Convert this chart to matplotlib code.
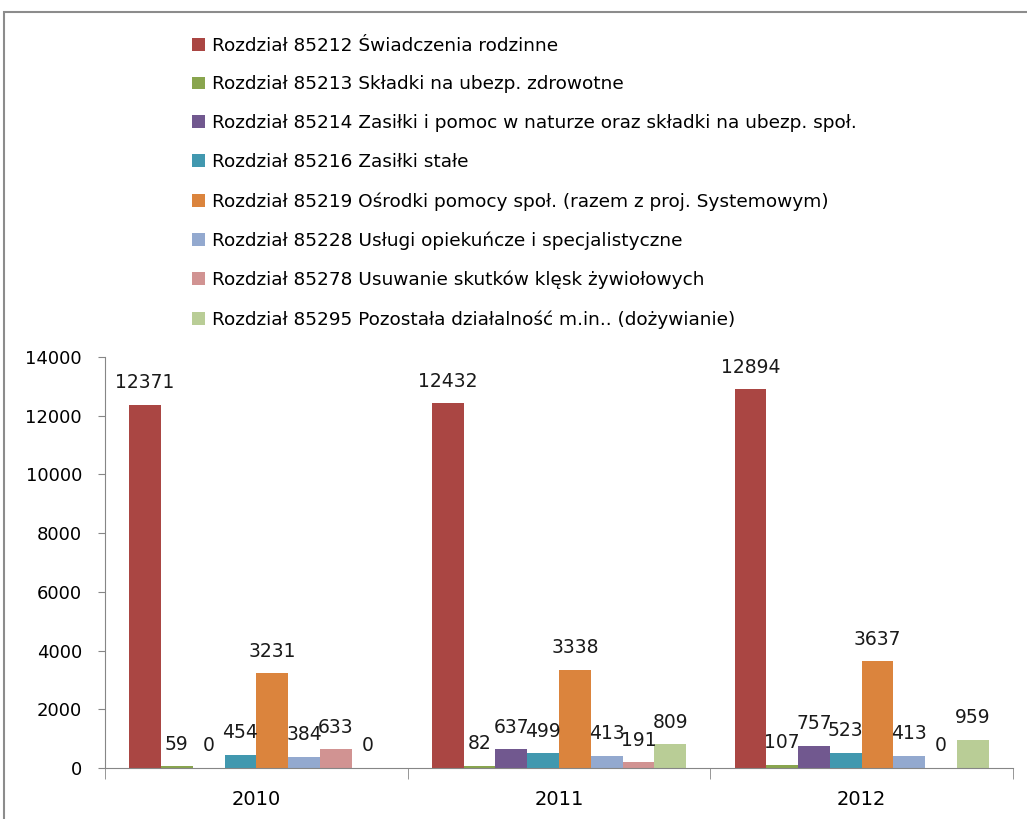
import matplotlib
matplotlib.use("Agg")
import matplotlib.pyplot as plt
import numpy as np
from matplotlib.patches import Rectangle

# Data
years = ["2010", "2011", "2012"]
series_names = [
    "Rozdział 85212 Świadczenia rodzinne",
    "Rozdział 85213 Składki na ubezp. zdrowotne",
    "Rozdział 85214 Zasiłki i pomoc w naturze oraz składki na ubezp. społ.",
    "Rozdział 85216 Zasiłki stałe",
    "Rozdział 85219 Ośrodki pomocy społ. (razem z proj. Systemowym)",
    "Rozdział 85228 Usługi opiekuńcze i specjalistyczne",
    "Rozdział 85278 Usuwanie skutków klęsk żywiołowych",
    "Rozdział 85295 Pozostała działalność m.in.. (dożywianie)",
]
r85212 = [12371, 12432, 12894]
r85213 = [59, 82, 107]
r85214 = [0, 637, 757]
r85216 = [454, 499, 523]
r85219 = [3231, 3338, 3637]
r85228 = [384, 413, 413]
r85278 = [633, 191, 0]
r85295 = [0, 809, 959]
series_values = [r85212, r85213, r85214, r85216, r85219, r85228, r85278, r85295]
colors = ["#AA4643", "#89A54E", "#71588F", "#4198AF",
          "#DB843D", "#93A9CF", "#D19392", "#B9CD96"]
y_ticks = [0, 2000, 4000, 6000, 8000, 10000, 12000, 14000]

fig = plt.figure(figsize=(10.27, 8.19), dpi=100)
ax = fig.add_axes([0.1022, 0.0623, 0.8842, 0.5018])

# outer chart border (partly cut off at right and bottom)
fig.patches.append(Rectangle((4 / 1027, -0.05), 1.1, 1 - 12 / 819 + 0.05,
                             transform=fig.transFigure, fill=False,
                             edgecolor="#8c8c8c", linewidth=1.5))

n = len(series_values)
bar_w = 0.84 / n
x = np.arange(len(years))
for i, (name, vals, col) in enumerate(zip(series_names, series_values, colors)):
    pos = x - 0.42 + bar_w * (i + 0.5)
    ax.bar(pos, vals, width=bar_w, color=col, label=name, linewidth=0)
    for p, v in zip(pos, vals):
        ax.annotate(str(v), (p, v), xytext=(0, 9), textcoords="offset points",
                    ha="center", va="bottom", fontsize=13.5, color="#1a1a1a")

ax.set_xlim(-0.5, len(years) - 0.5)
ax.set_ylim(0, 14000)
ax.set_yticks(y_ticks)
ax.set_yticklabels([str(t) for t in y_ticks], fontsize=13)
ax.set_xticks(x)
ax.set_xticklabels(years, fontsize=14)
ax.set_xticks(np.arange(len(years) + 1) - 0.5, minor=True)
ax.tick_params(axis="x", which="major", length=0, pad=16)
ax.tick_params(axis="x", which="minor", length=8, color="#868686")
ax.tick_params(axis="y", length=5, color="#868686", pad=11.5)
for s in ["top", "right"]:
    ax.spines[s].set_visible(False)
for s in ["left", "bottom"]:
    ax.spines[s].set_color("#868686")

handles, labels = ax.get_legend_handles_labels()
fig.legend(handles, labels, loc="upper left", bbox_to_anchor=(175 / 1027, 1 - 20 / 819),
           frameon=False, handlelength=0.7, handleheight=0.7, handletextpad=0.4,
           labelspacing=1.13, prop={"size": 13.3})

fig.savefig("out.png", dpi=100)
